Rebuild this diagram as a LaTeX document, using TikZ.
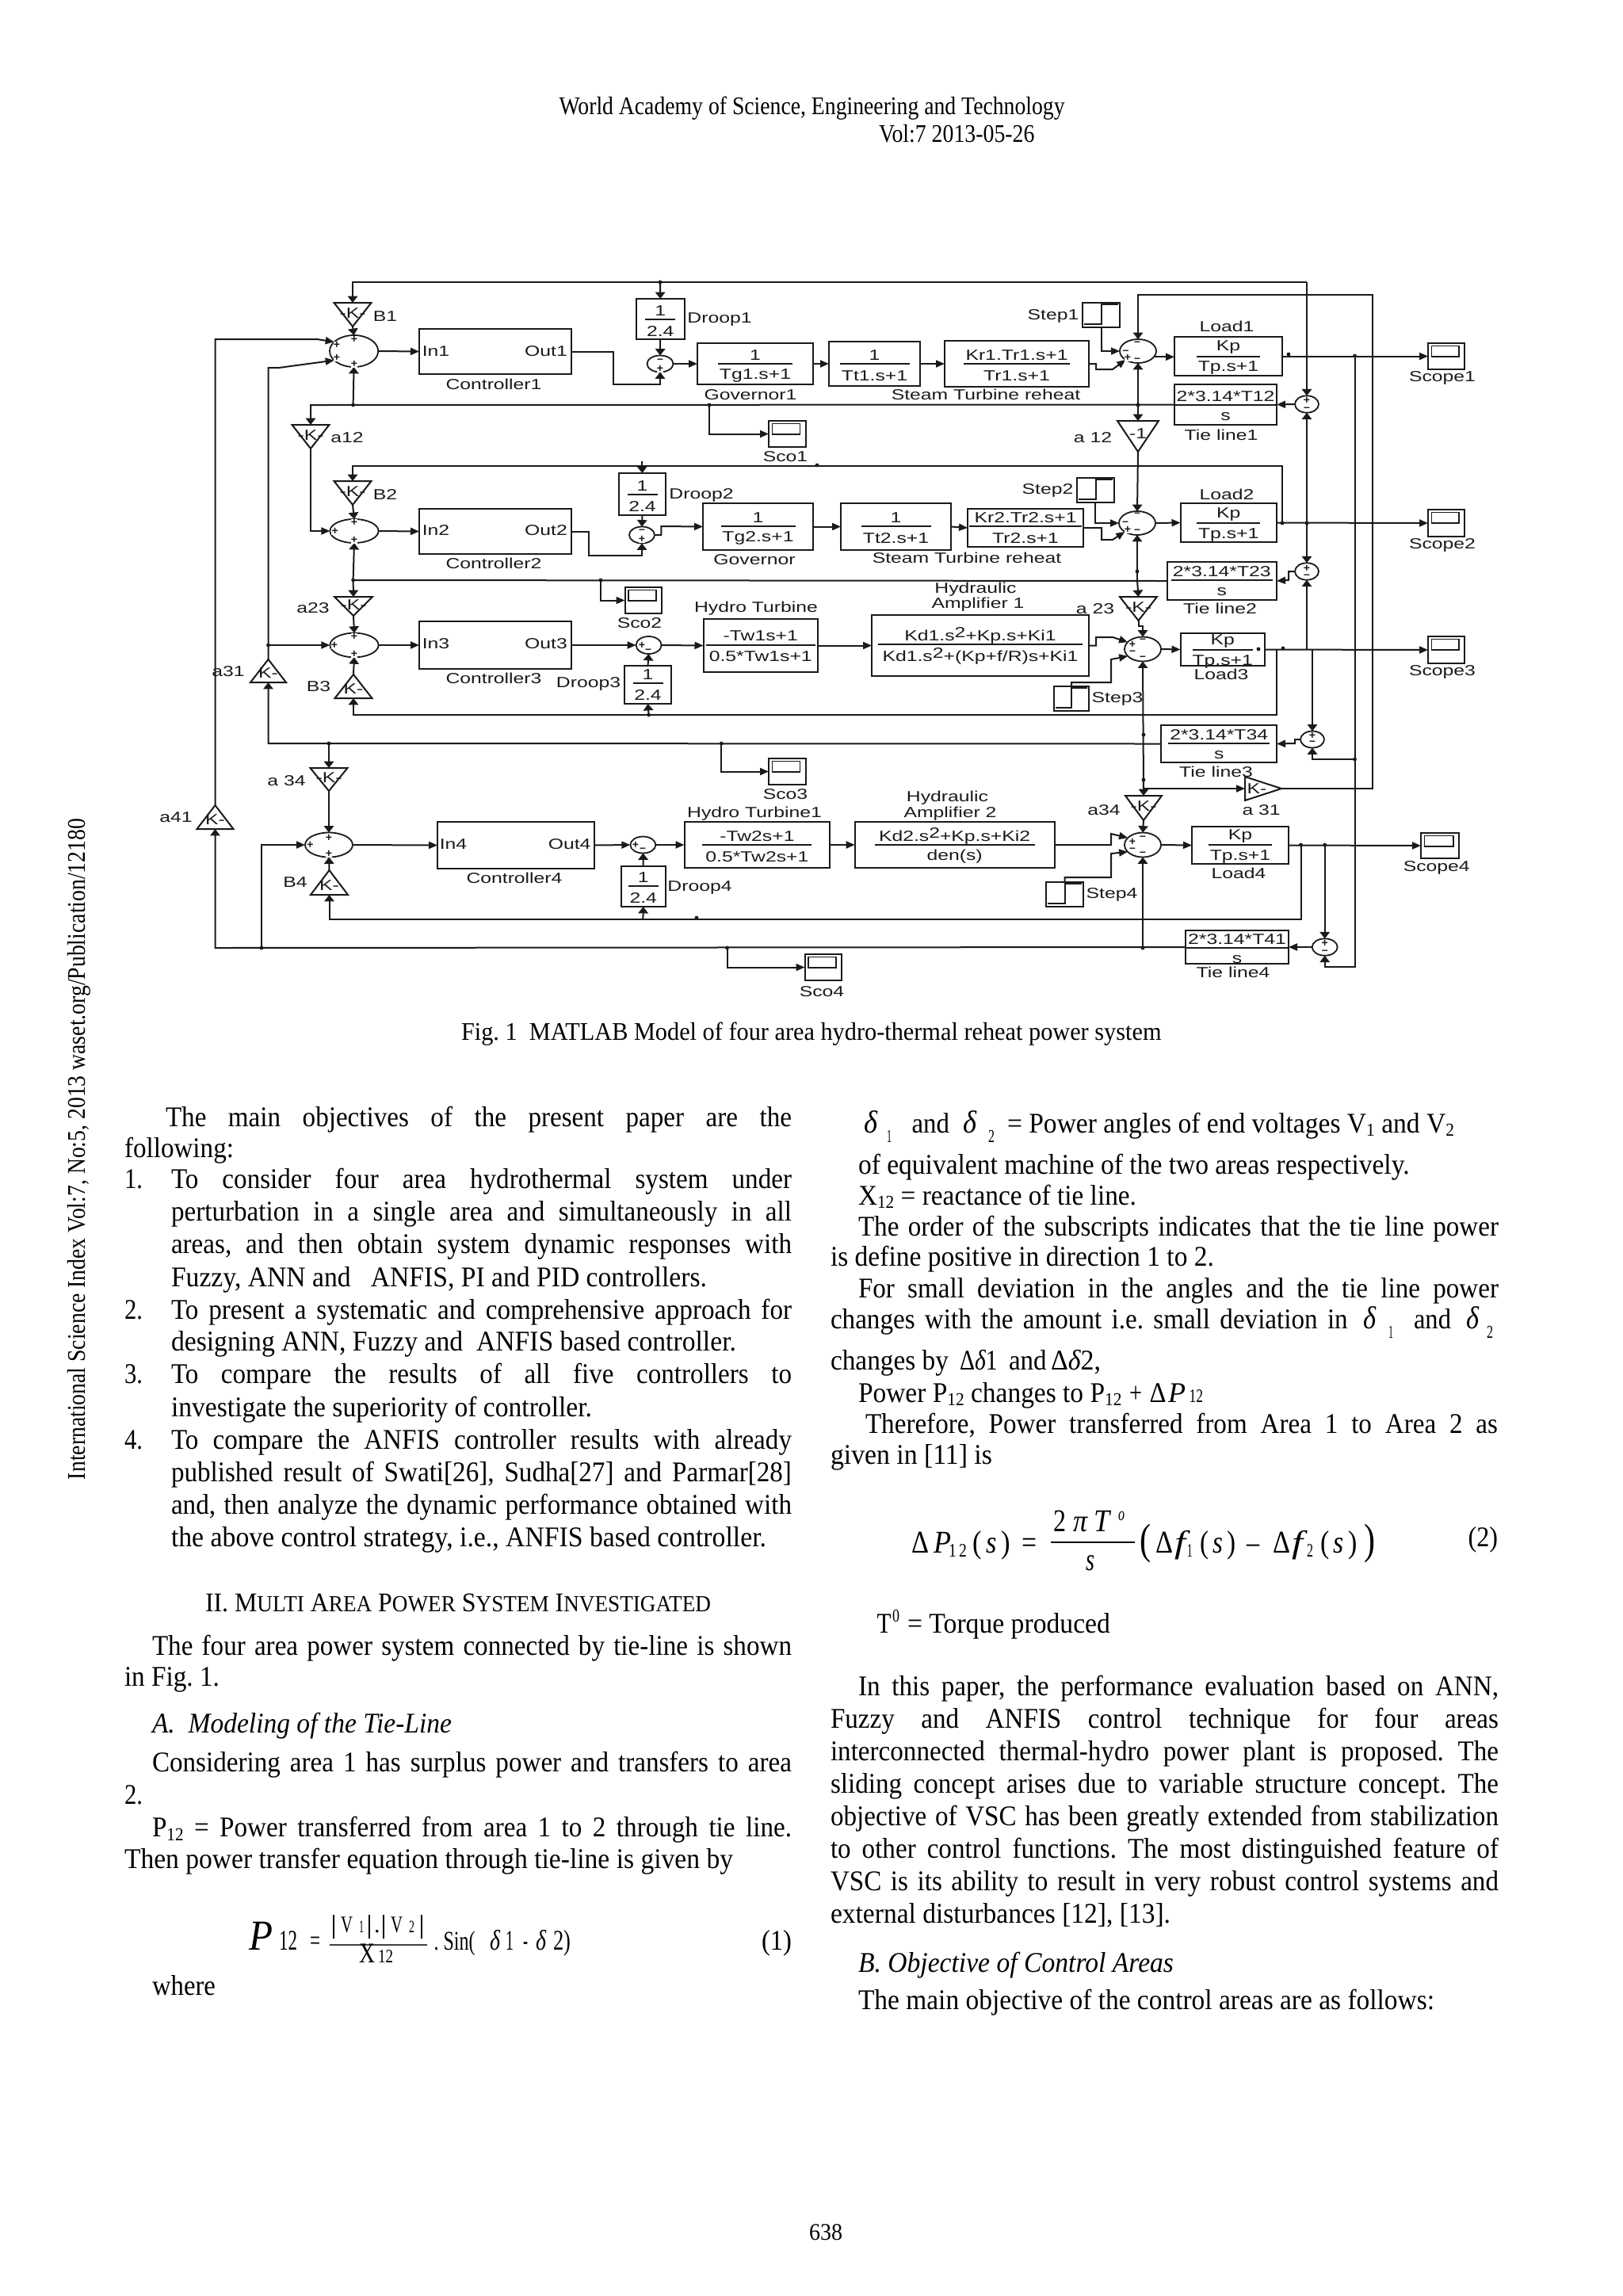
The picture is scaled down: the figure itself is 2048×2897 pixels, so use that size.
\documentclass[tikz,border=0pt]{standalone}
\usepackage{fontspec}
\usepackage{graphicx}
\setmainfont{Liberation Serif}
\newfontfamily\simf{Liberation Sans}
\usetikzlibrary{arrows.meta,shapes.geometric,calc}
\definecolor{ink}{HTML}{1A1A1A}
\newcounter{tn}
\tikzset{
  blk/.style={draw=ink,line width=1pt,inner sep=0pt,outer sep=0pt,rectangle},
  sumn/.style={draw=ink,line width=0.9pt,ellipse,inner sep=0pt,outer sep=0pt},
  sig/.style={draw=ink,line width=1pt},
  ah/.style={-{Triangle[length=5.5pt,width=4.5pt]}},
  av/.style={-{Triangle[length=4.2pt,width=6.2pt]}},
  stxt/.style={inner sep=0pt,outer sep=0pt,text=ink},
  bodyt/.style={anchor=base west,inner sep=0pt,outer sep=0pt,text=black},
  sgn/.style={inner sep=0.2pt,outer sep=0pt,fill=white,text=ink}
}
\newcommand\Tst[1]{\scalebox{1.33}[1]{\simf\fontsize{9.3}{10}\selectfont #1}}
\newcommand\Tlbl[3]{\stepcounter{tn}\node[stxt] (t\thetn) at (#1,#2) {\Tst{#3}};}
\newcommand\Tbox[5]{\node[blk,minimum width={(#4-#2)*0.5pt},minimum height={(#5-#3)*0.5pt}] (#1) at ({(#2+#4)/2},{(#3+#5)/2}) {};}
\newcommand\Ttf[9]{\Tbox{#1}{#2}{#3}{#4}{#5}
  \draw[sig] ({(#2+#4)/2-#7},#6) -- ({(#2+#4)/2+#7},#6);
  \node[stxt] (#1n) at ({(#2+#4)/2},{#6-11}) {\Tst{#8}};
  \node[stxt] (#1d) at ({(#2+#4)/2},{#6+15}) {\Tst{#9}};}
\newcommand\Tsum[5]{\node[sumn,minimum width=#4pt,minimum height=#5pt] (#1) at (#2,#3) {};}
\newcommand\Tsg[3]{\stepcounter{tn}\node[sgn] (t\thetn) at (#1,#2) {\simf\bfseries\fontsize{7}{7}\selectfont #3};}
\newcommand\Tgd[6]{\draw[sig] ({#2-#5},#3) -- ({#2+#5},#3) -- (#2,#4) -- cycle;
  \coordinate (#1-i) at (#2,#3); \coordinate (#1-o) at (#2,#4);
  \node[stxt] (#1) at (#2,{#3+0.42*(#4-#3)}) {\Tst{#6}};}
\newcommand\Tgu[6]{\draw[sig] ({#2-#5},#4) -- ({#2+#5},#4) -- (#2,#3) -- cycle;
  \coordinate (#1-i) at (#2,#4); \coordinate (#1-o) at (#2,#3);
  \node[stxt] (#1) at (#2,{#3+0.6*(#4-#3)}) {\Tst{#6}};}
\newcommand\Tscp[5]{\Tbox{#1}{#2}{#3}{#4}{#5}
  \draw[line width=0.9pt,draw=ink] ({#2+4.5},{#3+3.5}) rectangle ({#4-7},{#3+17});}
\newcommand\Tstep[6]{\Tbox{#1}{#2}{#3}{#4}{#5}
  \draw[line width=1pt,draw=ink] ({#2+2},{#5-4}) -- (#6,{#5-4}) -- (#6,{#3+2}) -- ({#4-2},{#3+2});}
\newcommand\Tdot[2]{\fill[ink] (#1,#2) circle (1.2pt);}
\newcommand\Tjl[4]{\stepcounter{tn}\node[bodyt] (t\thetn) at (#1,#2) {\scalebox{0.92}[1]{\fontsize{18}{20}\selectfont\frenchspacing\spaceskip=0pt plus 60pt minus 8pt\relax\hbox to \dimexpr(#3pt-#1pt)/2*100/92\relax{#4}}};}
\newcommand\Trl[5][18]{\stepcounter{tn}\node[bodyt] (t\thetn) at (#2,#3) {\resizebox{\dimexpr #4pt/2\relax}{\height}{\fontsize{#1}{#1}\selectfont\frenchspacing #5}};}
\newcommand\Tnl[4][16.5]{\stepcounter{tn}\node[bodyt] (t\thetn) at (#2,#3) {\fontsize{#1}{#1}\selectfont #4};}
\newcommand\Tsb[1]{\raisebox{-0.3ex}{\fontsize{11.5}{12}\selectfont #1}}
\newcommand\Tsc[1]{{\fontsize{14.5}{15}\selectfont #1}}
\begin{document}
\begin{tikzpicture}[x=0.5pt,y=-0.5pt]
\useasboundingbox (0,0) rectangle (2048,2897);
\fill[white] (0,0) rectangle (2048,2897);

% ---------- blocks, row 1
\Tgd{B1}{445}{382}{412}{23.5}{-K-}
\Tsum{s1}{446.6}{443}{30.6}{20}
\Tbox{c1}{529}{415}{721}{472}
\Ttf{D1}{803}{377}{863.5}{428}{403}{19}{1}{2.4}
\Tsum{sd1}{833}{459}{16.5}{10.5}
\Ttf{g1}{880}{433}{1026}{485}{459}{47}{1}{Tg1.s+1}
\Ttf{tt1}{1046}{431}{1161}{487}{459}{44}{1}{Tt1.s+1}
\Ttf{kr1}{1192}{430}{1374}{488}{459}{67}{Kr1.Tr1.s+1}{Tr1.s+1}
\Tstep{st1}{1366}{382}{1413}{413}{1390}
\Tsum{sl1}{1436}{443}{23}{15}
\Ttf{L1}{1482}{425}{1618}{474}{449.5}{40}{Kp}{Tp.s+1}
\Tscp{sc1}{1802}{433}{1848}{466}
\Ttf{T1}{1482}{485}{1611}{536}{511}{64}{2*3.14*T12}{s}
\Tsum{ts1}{1649}{510}{15}{10.7}
\Tgd{a12L}{392}{536}{566}{23.5}{-K-}
\Tgd{a12R}{1436}{531}{570}{26}{-1}
\Tscp{sco1}{970}{531}{1016.5}{564}
% row 2
\Tgd{B2}{445}{607}{637}{23.5}{-K-}
\Tsum{s2}{447}{670}{30.6}{15}
\Tbox{c2}{529}{642}{721}{699}
\Ttf{D2}{781}{597}{840}{650}{624}{19}{1}{2.4}
\Tsum{sd2}{810}{675}{16}{10.5}
\Ttf{g2}{887}{635}{1026}{694}{664}{47}{1}{Tg2.s+1}
\Ttf{tt2}{1061}{635}{1200}{694}{664}{44}{1}{Tt2.s+1}
\Ttf{kr2}{1221}{642}{1367}{690}{664}{71}{Kr2.Tr2.s+1}{Tr2.s+1}
\Tstep{st2}{1358.5}{603}{1405.6}{634}{1383}
\Tsum{sl2}{1435}{660}{23}{15}
\Ttf{L2}{1489.5}{635}{1611}{684}{660}{40}{Kp}{Tp.s+1}
\Tscp{sc2}{1802}{643}{1848}{677}
\Ttf{T2}{1472.5}{709}{1611}{757}{732}{64}{2*3.14*T23}{s}
\Tsum{ts2}{1649}{721}{15}{10.7}
\Tgd{a23L}{446}{753}{777}{24}{-K-}
\Tgd{a23R}{1436.5}{753}{783}{23.5}{-K-}
\Tscp{sco2}{788.5}{741}{835}{774}
% row 3
\Tsum{s3}{447}{814}{30.6}{15.3}
\Tbox{c3}{529}{784}{721}{844}
\Tsum{sd3}{818.6}{814}{16}{11}
\Ttf{D3}{788}{840}{847}{888}{862}{19}{1}{2.4}
\Ttf{ht}{887.5}{781}{1032}{848}{813.5}{69}{-Tw1s+1}{0.5*Tw1s+1}
\Ttf{ha1}{1100}{776}{1374}{853}{813}{129}{Kd1.s\raisebox{0.45ex}{2}+Kp.s+Ki1}{Kd1.s\raisebox{0.45ex}{2}+(Kp+f/R)s+Ki1}
\Tstep{st3}{1330}{866}{1374}{897}{1352}
\Tsum{sl3}{1442}{819}{23}{15.5}
\Ttf{L3}{1489.5}{799}{1596}{840}{820}{38}{Kp}{Tp.s+1}
\Tscp{sc3}{1802}{803}{1848}{837}
\Ttf{T3}{1465.4}{915}{1611}{962}{938}{64}{2*3.14*T34}{s}
\Tsum{ts3}{1656}{933}{15}{10.5}
\Tgu{B3}{446}{851}{881}{23.5}{K-}
\Tgu{a31L}{338.5}{832}{861}{22.5}{K-}
\Tgu{a41}{271.5}{1016}{1046}{23}{K-}
\Tscp{sco3}{970}{957}{1016.5}{990}
\draw[sig] (1571,980) -- (1617,995) -- (1571,1010) -- cycle;
\coordinate (a31R-i) at (1571,995); \coordinate (a31R-o) at (1617,995);
\node[stxt] (a31R) at (1586,995) {\Tst{K-}};
% row 4
\Tgd{a34L}{415}{969}{998}{23.5}{-K-}
\Tgd{a34R}{1443}{1004}{1035}{23}{-K-}
\Tsum{s4}{415}{1066}{30}{15.5}
\Tbox{c4}{552}{1037}{750}{1096}
\Tsum{sd4}{811.4}{1066}{16}{10.5}
\Ttf{D4}{784}{1093}{839.5}{1144}{1118}{19}{1}{2.4}
\Ttf{ht1}{863.5}{1037}{1047.4}{1095}{1066}{69}{-Tw2s+1}{0.5*Tw2s+1}
\Ttf{ha2}{1078.7}{1037}{1330.5}{1095}{1066}{101}{Kd2.s\raisebox{0.45ex}{2}+Kp.s+Ki2}{den(s)}
\Tstep{st4}{1320}{1113}{1367}{1144}{1343.6}
\Tsum{sl4}{1442}{1066}{23}{15.5}
\Ttf{L4}{1504}{1043}{1626}{1090}{1066}{40}{Kp}{Tp.s+1}
\Tscp{sc4}{1793}{1051}{1840.6}{1083}
\Ttf{T4}{1496}{1174}{1626}{1216}{1196}{65}{2*3.14*T41}{s}
\Tsum{ts4}{1671.7}{1195}{16}{10.7}
\Tgu{B4}{415.5}{1098}{1129}{23.5}{K-}
\Tscp{sco4}{1015.5}{1204}{1062}{1237}

% ---------- connectors
\coordinate (busA) at (1649,356); \coordinate (busB) at (445,356); \coordinate (j1) at (833,356);
\draw[sig,av] (busA) -- (busB) -- (B1-i);
\draw[sig,av] (busA) -- (ts1.north);
\draw[sig,av] (j1) -- (D1.north);
\draw[sig,av] (B1-o) -- (s1.north);
\draw[sig,ah] (s1.east) -- (c1.west);
\coordinate (w1) at (774,485);
\draw[sig,av] (c1.east) -| (w1) -| (sd1.south);
\draw[sig,av] (D1.south) -- (sd1.north);
\draw[sig,ah] (sd1.east) -- (g1.west);
\draw[sig,ah] (g1.east) -- (tt1.west);
\draw[sig,ah] (tt1.east) -- (kr1.west);
\coordinate (w2) at (1383,466); \coordinate (w2b) at (1404,466);
\draw[sig,ah] (kr1.east) -| (w2) -- (w2b) -- (sl1.215);
\draw[sig,ah] (st1.south) |- (sl1.west);
\draw[sig,ah] (sl1.-20) -- (sl1.-20 -| L1.west);
\draw[sig,ah] (L1.east) -- (sc1.west);
\coordinate (v1) at (1709.5,449.5); \coordinate (v1b) at (1709.5,1220); \coordinate (v1c) at (1709.5,958);
\draw[sig,av] (v1) -- (v1b) -| (ts4.south);
\draw[sig,av] (v1c) -| (ts3.south);
\coordinate (q1) at (1731.5,995); \coordinate (q2) at (1731.5,372); \coordinate (q3) at (1436,372);
\draw[sig,av] (a31R-o) -- (q1) -- (q2) -- (q3) -- (sl1.north);
\coordinate (v2) at (1649,660);
\draw[sig,av] (v2) -- (ts1.south);
\draw[sig,ah] (ts1.west) -- (T1.east);
\coordinate (bus1) at (392,511); \coordinate (bj1) at (445.6,511); \coordinate (sj1) at (895,511); \coordinate (rj1) at (1436,511);
\draw[sig,av] (T1.west) -- (bus1) -- (a12L-i);
\draw[sig,av] (bj1) -- (s1.south);
\draw[sig,ah] (sj1) |- (sco1.west);
\draw[sig,av] (rj1) -- (sl1.south);
\draw[sig,av] (rj1) -- (a12R-i);
\draw[sig,av] (a12R-o) -- (sl2.north);
\coordinate (u1) at (271.5,428); \coordinate (u2) at (400,428);
\draw[sig,ah] (a41-o) -- (u1) -- (u2) -- (s1.155);
\coordinate (jl3) at (338.5,814); \coordinate (u3) at (338.5,464); \coordinate (u4) at (352,464);
\draw[sig,ah] (a31L-o) -- (jl3) -- (u3) -- (u4) -- (s1.205);
% row 2 connectors
\coordinate (v3) at (1618,660); \coordinate (u5) at (1618,588); \coordinate (u6) at (445,588); \coordinate (j2) at (810,582);
\draw[sig,av] (v3) -- (u5) -- (u6) -- (B2-i);
\draw[sig,av] (j2) -- (D2.north);
\draw[sig,ah] (a12L-o) |- (s2.west);
\draw[sig,av] (B2-o) -- (s2.north);
\draw[sig,ah] (s2.east) -- (c2.west);
\coordinate (w3) at (742.5,701);
\draw[sig,av] (c2.east) -| (w3) -| (sd2.south);
\draw[sig,av] (D2.south) -- (sd2.north);
\coordinate (w4) at (834.4,664);
\draw[sig,ah] (sd2.east) -| (w4) -- (g2.west);
\draw[sig,ah] (g2.east) -- (tt2.west);
\draw[sig,ah] (tt2.east) -- (kr2.west);
\coordinate (w5) at (1390,681); \coordinate (w5b) at (1404,681);
\draw[sig,ah] (kr2.east) -| (w5) -- (w5b) -- (sl2.215);
\draw[sig,ah] (st2.south) |- (sl2.west);
\draw[sig,ah] (sl2.east) -- (L2.west);
\draw[sig,ah] (L2.east) -- (sc2.west);
\coordinate (v4) at (1649,820);
\draw[sig,av] (v2) -- (ts2.north);
\draw[sig,av] (v4) -- (ts2.south);
\coordinate (w6) at (1626,732);
\draw[sig,ah] (ts2.west) -| (w6) -- (T2.east);
\coordinate (jb2) at (445.6,732); \coordinate (sj2) at (758,732); \coordinate (rj2) at (1435,732);
\draw[sig] (T2.west) -- (jb2);
\draw[sig,av] (jb2) -- (s2.south);
\draw[sig,av] (jb2) -- (a23L-i);
\draw[sig,ah] (sj2) |- (sco2.west);
\draw[sig,av] (rj2) -- (sl2.south);
\draw[sig,av] (rj2) -- (a23R-i);
\coordinate (w7) at (1436.5,790);
\draw[sig,av] (a23R-o) -- (w7) -| (sl3.north);
% row 3 connectors
\draw[sig,av] (a23L-o) -- (s3.north);
\draw[sig,ah] (jl3) -- (s3.west);
\coordinate (u7) at (338.5,938);
\draw[sig,av] (T3.west) -- (u7) -- (a31L-i);
\coordinate (j3) at (415,938); \coordinate (sj3) at (910.4,938);
\draw[sig,av] (j3) -- (a34L-i);
\draw[sig,ah] (sj3) |- (sco3.west);
\draw[sig,ah] (s3.east) -- (c3.west);
\draw[sig,ah] (c3.east) -- (sd3.west);
\draw[sig,ah] (sd3.east) -- (ht.west);
\draw[sig,ah] (ht.east) -- (ha1.west);
\draw[sig,av] (D3.north) -- (sd3.south);
\coordinate (j4) at (818.6,902); \coordinate (v5) at (1611,820); \coordinate (u8) at (1611,902); \coordinate (u9) at (446,902);
\draw[sig,av] (j4) -- (D3.south);
\draw[sig,av] (v5) -- (u8) -- (u9) -- (B3-i);
\draw[sig,av] (B3-o) -- (s3.south);
\draw[sig,ah] (L3.east) -- (sc3.west);
\coordinate (v6) at (1656,820);
\draw[line width=0.8pt,draw=ink,av] (v6) -- (ts3.north);
\coordinate (w8) at (1634,938);
\draw[sig,ah] (ts3.west) -| (w8) -- (T3.east);
\coordinate (w9) at (1383,804); \coordinate (w9b) at (1404,804);
\draw[sig,ah] (ha1.east) -| (w9) -- (w9b) -- (sl3.155);
\coordinate (x1) at (1352,861); \coordinate (x2) at (1402,861); \coordinate (x3) at (1402,832);
\draw[sig,ah] (st3.north) -- (x1) -- (x2) -- (x3) -- (sl3.205);
\draw[sig,ah] (sl3.east) -- (L3.west);
\coordinate (rj3) at (1443,995);
\draw[sig,av] (rj3) -- (sl3.south);
\draw[sig,av] (rj3) -- (a34R-i);
\draw[sig,ah] (rj3) -- (a31R-i);
% row 4 connectors
\draw[sig,av] (a34L-o) -- (s4.north);
\coordinate (j5) at (330,1196); \coordinate (u10) at (271.5,1196); \coordinate (sj4) at (917.5,1196); \coordinate (rj4) at (1442,1196);
\draw[sig,ah] (j5) |- (s4.west);
\draw[sig,av] (T4.west) -- (u10) -- (a41-i);
\draw[sig,ah] (sj4) |- (sco4.west);
\draw[sig,av] (rj4) -- (sl4.south);
\draw[sig,av] (a34R-o) -- (sl4.north);
\draw[sig,ah] (s4.east) -- (c4.west);
\draw[sig,ah] (c4.east) -- (sd4.west);
\draw[sig,ah] (sd4.east) -- (ht1.west);
\draw[sig,ah] (ht1.east) -- (ha2.west);
\draw[sig,av] (D4.north) -- (sd4.south);
\coordinate (j6) at (811.4,1160); \coordinate (v7) at (1641.5,1066); \coordinate (u11) at (1641.5,1160); \coordinate (u12) at (415.5,1160);
\draw[sig,av] (j6) -- (D4.south);
\draw[sig,av] (v7) -- (u11) -- (u12) -- (B4-i);
\draw[sig,av] (B4-o) -- (s4.south);
\coordinate (y1) at (1402,1066); \coordinate (y2) at (1402,1052);
\draw[sig,ah] (ha2.east) -- (y1) -- (y2) -- (sl4.155);
\coordinate (y3) at (1343.6,1107); \coordinate (y4) at (1402,1107); \coordinate (y5) at (1402,1077);
\draw[sig,ah] (st4.north) -- (y3) -- (y4) -- (y5) -- (sl4.205);
\draw[sig,ah] (sl4.east) -- (L4.west);
\draw[sig,ah] (L4.east) -- (sc4.west);
\coordinate (v8) at (1671.7,1066);
\draw[sig,av] (v8) -- (ts4.north);
\draw[sig,ah] (ts4.west) -- (T4.east);
% junction dots
\Tdot{833}{356}\Tdot{445.6}{511}\Tdot{895}{511}\Tdot{1436}{511}\Tdot{1626}{447}\Tdot{1709.5}{449}
\Tdot{1618}{660}\Tdot{1649}{660}\Tdot{445.6}{732}\Tdot{758}{732}\Tdot{1435}{721}
\Tdot{338.5}{814}\Tdot{818.6}{902}\Tdot{415}{938}\Tdot{910.4}{938}\Tdot{1443}{927}\Tdot{1443}{984}
\Tdot{1588}{819}\Tdot{1619}{818}\Tdot{1709.5}{958}\Tdot{330}{1196}\Tdot{917.5}{1196}\Tdot{1442}{1196}
\Tdot{879}{1158}\Tdot{1641.5}{1066}\Tdot{1671.7}{1066}\Tdot{1031}{587}

% signs
\Tsg{447}{428}{+}\Tsg{425}{435}{+}\Tsg{425}{451}{+}\Tsg{447}{459}{+}
\Tsg{447}{659}{+}\Tsg{422.6}{670}{+}\Tsg{447}{681}{+}
\Tsg{447}{803}{+}\Tsg{422}{814}{+}\Tsg{447}{825}{+}
\Tsg{415}{1057}{+}\Tsg{391.5}{1066}{+}\Tsg{415}{1077}{+}
\Tsg{833}{455}{–}\Tsg{833}{465}{+}
\Tsg{810}{670}{–}\Tsg{810}{680}{+}
\Tsg{810}{814}{+}\Tsg{818}{821}{–}
\Tsg{802}{1066}{+}\Tsg{811}{1072}{–}
\Tsg{1435}{433}{–}\Tsg{1420.5}{444}{–}\Tsg{1423}{451}{+}\Tsg{1435}{454}{–}
\Tsg{1435}{649}{–}\Tsg{1420}{660}{–}\Tsg{1423}{668}{+}\Tsg{1435}{670}{–}
\Tsg{1429}{813}{+}\Tsg{1442}{808}{–}\Tsg{1429}{823}{–}\Tsg{1442}{830}{–}
\Tsg{1429}{1062}{+}\Tsg{1442}{1057}{–}\Tsg{1429}{1072}{–}\Tsg{1442}{1077}{–}
\Tsg{1649}{505}{+}\Tsg{1649}{516}{–}
\Tsg{1649}{717}{+}\Tsg{1649}{727}{–}
\Tsg{1656}{928}{+}\Tsg{1656}{937}{–}
\Tsg{1671.7}{1190}{+}\Tsg{1671.7}{1201}{–}

% block inner labels and captions
\Tlbl{550}{443}{In1}\Tlbl{689}{443}{Out1}
\Tlbl{550}{669}{In2}\Tlbl{689}{669}{Out2}
\Tlbl{550}{812}{In3}\Tlbl{689}{812}{Out3}
\Tlbl{572}{1065}{In4}\Tlbl{718.6}{1065}{Out4}
\Tlbl{623}{485}{Controller1}\Tlbl{623}{711}{Controller2}\Tlbl{623}{856}{Controller3}\Tlbl{649}{1108}{Controller4}
\Tlbl{486}{399}{B1}\Tlbl{438}{552}{a12}\Tlbl{486}{624}{B2}\Tlbl{395}{767}{a23}\Tlbl{402}{866}{B3}\Tlbl{288}{847}{a31}
\Tlbl{361.5}{985}{a 34}\Tlbl{372.6}{1113}{B4}\Tlbl{222}{1031}{a41}
\Tlbl{908}{403}{Droop1}\Tlbl{885}{625}{Droop2}\Tlbl{742.5}{863}{Droop3}\Tlbl{883}{1120}{Droop4}
\Tlbl{947}{498}{Governor1}\Tlbl{952}{706}{Governor}
\Tlbl{1244}{498}{Steam Turbine reheat}\Tlbl{1220}{704}{Steam Turbine reheat}
\Tlbl{954}{768}{Hydro Turbine}\Tlbl{952}{1027}{Hydro Turbine1}
\Tlbl{1231}{744}{Hydraulic}\Tlbl{1234}{763}{Amplifier 1}
\Tlbl{1195.5}{1007}{Hydraulic}\Tlbl{1199}{1027}{Amplifier 2}
\Tlbl{991}{576}{Sco1}\Tlbl{807}{786}{Sco2}\Tlbl{991}{1002}{Sco3}\Tlbl{1037}{1251}{Sco4}
\Tlbl{1329}{399}{Step1}\Tlbl{1322}{619}{Step2}\Tlbl{1410}{882}{Step3}\Tlbl{1403}{1129}{Step4}
\Tlbl{1548}{412}{Load1}\Tlbl{1548}{624}{Load2}\Tlbl{1541}{851}{Load3}\Tlbl{1563}{1102}{Load4}
\Tlbl{1820}{477}{Scope1}\Tlbl{1820}{688}{Scope2}\Tlbl{1820}{848}{Scope3}\Tlbl{1812.7}{1095}{Scope4}
\Tlbl{1541}{549}{Tie line1}\Tlbl{1539.5}{768}{Tie line2}\Tlbl{1534.5}{974}{Tie line3}\Tlbl{1556}{1227}{Tie line4}
\Tlbl{1379}{552}{a 12}\Tlbl{1382}{768}{a 23}\Tlbl{1393}{1022}{a34}\Tlbl{1591.6}{1022}{a 31}

% ---------- page text
\Trl[16]{705.5}{144}{638}{World Academy of Science, Engineering and Technology}
\Trl[16]{1109}{179}{196.5}{Vol:7 2013-05-26}
\Trl[16]{582}{1312}{883.5}{Fig. 1\ \ MATLAB Model of four area hydro-thermal reheat power system}
\Trl[15]{1021}{2826}{42}{638}
\stepcounter{tn}\node[anchor=base west,inner sep=0pt,outer sep=0pt,rotate=90] (t\thetn) at (107,1867) {\resizebox{417pt}{\height}{\fontsize{16}{16}\selectfont International Science Index Vol:7, No:5, 2013 waset.org/Publication/12180}};

% left column
\Tjl{209}{1421}{999}{The main objectives of the present paper are the}
\Trl{157}{1460}{138}{following:}
\Trl{157}{1499}{23}{1.}
\Tjl{216}{1499}{999}{To consider four area hydrothermal system under}
\Tjl{216}{1540}{999}{perturbation in a single area and simultaneously in all}
\Tjl{216}{1581}{999}{areas, and then obtain system dynamic responses with}
\Trl{216}{1623}{676}{Fuzzy, ANN and \ \ ANFIS, PI and PID controllers.}
\Trl{157}{1664}{23}{2.}
\Tjl{216}{1664}{999}{To present a systematic and comprehensive approach for}
\Trl{216}{1704}{713}{designing ANN, Fuzzy and \ ANFIS based controller.}
\Trl{157}{1745.5}{23}{3.}
\Tjl{216}{1745.5}{999}{To compare the results of all five controllers to}
\Trl{216}{1787}{531}{investigate the superiority of controller.}
\Trl{157}{1828}{23}{4.}
\Tjl{216}{1828}{999}{To compare the ANFIS controller results with already}
\Tjl{216}{1869}{999}{published result of Swati[26], Sudha[27] and Parmar[28]}
\Tjl{216}{1910}{999}{and, then analyze the dynamic performance obtained with}
\Trl{216}{1951}{751}{the above control strategy, i.e., ANFIS based controller.}
\Trl[17]{259}{2033}{638}{II. M\Tsc{ULTI} A\Tsc{REA} P\Tsc{OWER} S\Tsc{YSTEM} I\Tsc{NVESTIGATED}}
\Tjl{192}{2088}{999}{The four area power system connected by tie-line is shown}
\Trl{157}{2127}{120}{in Fig. 1.}
\Trl{192}{2186}{378}{\itshape A.\ \ Modeling of the Tie-Line}
\Tjl{192}{2235}{999}{Considering area 1 has surplus power and transfers to area}
\Trl{157}{2276}{23}{2.}
\Tjl{192}{2317.5}{999}{P\Tsb{12} = Power transferred from area 1 to 2 through tie line.}
\Trl{157}{2357}{768}{Then power transfer equation through tie-line is given by}
% equation 1
\Trl[27]{314}{2460}{30}{\itshape P}
\Trl{352}{2460}{23}{12}
\Trl{391}{2460}{13}{=}
\coordinate (e1a) at (415.5,2454); \coordinate (e1b) at (539,2454);
\draw[line width=0.8pt,black!75] (e1a) -- (e1b);
\Trl[15]{430}{2438}{15}{V}\Trl[11]{453}{2438}{6}{1}\Tnl[15]{472}{2438}{.}\Trl[15]{493}{2438}{15}{V}\Trl[11]{516}{2438}{7}{2}
\coordinate (b1a) at (421,2416); \coordinate (b1b) at (421,2446); \draw[line width=0.6pt] (b1a) -- (b1b);
\coordinate (b2a) at (466,2416); \coordinate (b2b) at (466,2446); \draw[line width=0.6pt] (b2a) -- (b2b);
\coordinate (b3a) at (484,2416); \coordinate (b3b) at (484,2446); \draw[line width=0.6pt] (b3a) -- (b3b);
\coordinate (b4a) at (532,2416); \coordinate (b4b) at (532,2446); \draw[line width=0.6pt] (b4a) -- (b4b);
\Trl{453}{2476}{20}{X}\Trl[12]{477}{2476}{19}{12}
\Trl[17]{547.6}{2460}{52}{. Sin(}
\Trl{618}{2460}{13}{\itshape δ}\Trl{638}{2460}{10}{1}\Trl{660}{2460}{6}{-}\Trl{676}{2460}{13}{\itshape δ}\Trl{698}{2460}{22}{2)}
\Trl{961}{2460}{38}{(1)}
\Trl{192}{2517.5}{80}{where}

% right column
\Trl[20]{1090}{1429}{17}{\itshape δ}\Trl[11.5]{1119}{1441}{6}{1}\Trl{1150.5}{1429}{47.5}{and}
\Trl[20]{1215}{1429}{17}{\itshape δ}\Trl[11.5]{1247}{1441}{8}{2}
\Trl{1271}{1429}{564}{= Power angles of end voltages V\Tsb{1} and V\Tsb{2}}
\Trl{1083}{1481}{695.6}{of equivalent machine of the two areas respectively.}
\Trl{1083}{1520}{351}{X\Tsb{12} = reactance of tie line.}
\Tjl{1083}{1559}{1891}{The order of the subscripts indicates that the tie line power}
\Trl{1048}{1597.4}{484}{is define positive in direction 1 to 2.}
\Tjl{1083}{1637}{1891}{For small deviation in the angles and the tie line power}
\Tjl{1048}{1676}{1700.7}{changes with the amount i.e. small deviation in}
\Trl[20]{1720}{1676}{16}{\itshape δ}\Trl[11.5]{1752}{1688}{6}{1}\Trl{1784}{1676}{47}{and}
\Trl[20]{1850}{1676}{16}{\itshape δ}\Trl[11.5]{1876}{1688}{8}{2}
\Trl{1048}{1728}{149}{changes by}
\Trl{1211}{1728}{47.6}{Δ{\itshape δ}1}
\Trl{1273}{1728}{47.6}{and}
\Trl{1326}{1728}{63}{Δ{\itshape δ}2,}
\Trl{1083}{1769}{332.5}{Power P\Tsb{12} changes to P\Tsb{12}}
\Trl{1425}{1769}{16}{+}\Trl{1450.6}{1769}{21}{Δ}\Trl{1474}{1769}{22}{\itshape P}\Trl[12]{1500.5}{1769}{17.5}{12}
\Tjl{1092}{1808}{1890}{Therefore, Power transferred from Area 1 to Area 2 as}
\Trl{1048}{1847.6}{204}{given in [11] is}
% equation 2
\Trl[20]{1150.5}{1959}{22}{Δ}\Trl[20]{1178}{1959}{22}{\itshape P}\Trl[12]{1197}{1964}{23}{1\,2}
\Trl[20]{1227}{1959}{48}{(\,{\itshape s}\,)}
\Trl[20]{1289}{1959}{19}{=}
\coordinate (e2a) at (1326,1946); \coordinate (e2b) at (1432,1946);
\draw[line width=0.8pt,black] (e2a) -- (e2b);
\Trl[20]{1329}{1932.6}{16}{2}\Trl[20]{1354.5}{1932.6}{18}{\itshape π}\Trl[20]{1380}{1932.6}{20}{\itshape T}\Trl[12]{1411}{1918}{8}{\itshape o}
\Trl[20]{1370}{1981}{11}{\itshape s}
\stepcounter{tn}\node[bodyt] (t\thetn) at (1438,1960) {\resizebox{7pt}{\height}{\fontsize{27}{27}\selectfont (}};
\Trl[20]{1458}{1959}{22}{Δ}\Trl[20]{1482}{1959}{14}{\itshape f}\Trl[12]{1498}{1964}{6.5}{1}
\Trl[20]{1514}{1959}{46}{(\,{\itshape s}\,)}
\Trl[20]{1573}{1959}{16}{–}
\Trl[20]{1606}{1959}{22}{Δ}\Trl[20]{1630}{1959}{14}{\itshape f}\Trl[12]{1649}{1964}{8}{2}
\Trl[20]{1666}{1959}{47}{(\,{\itshape s}\,)}
\stepcounter{tn}\node[bodyt] (t\thetn) at (1721,1960) {\resizebox{7pt}{\height}{\fontsize{27}{27}\selectfont )}};
\Trl{1852.6}{1951}{37.5}{(2)}
% lower right
\Trl{1106.6}{2060}{18}{T}\Trl[11.5]{1126}{2046}{9}{0}
\Trl{1145}{2060}{256}{= Torque produced}
\Tjl{1083}{2139}{1891}{In this paper, the performance evaluation based on ANN,}
\Tjl{1048}{2180}{1891}{Fuzzy and ANFIS control technique for four areas}
\Tjl{1048}{2221}{1891}{interconnected thermal-hydro power plant is proposed. The}
\Tjl{1048}{2262}{1891}{sliding concept arises due to variable structure concept. The}
\Tjl{1048}{2303}{1891}{objective of VSC has been greatly extended from stabilization}
\Tjl{1048}{2344}{1891}{to other control functions. The most distinguished feature of}
\Tjl{1048}{2385}{1891}{VSC is its ability to result in very robust control systems and}
\Trl{1048}{2426}{429}{external disturbances [12], [13].}
\Trl{1083}{2488}{398}{\itshape B. Objective of Control Areas}
\Trl{1083}{2535}{727}{The main objective of the control areas are as follows:}
\end{tikzpicture}
\end{document}
